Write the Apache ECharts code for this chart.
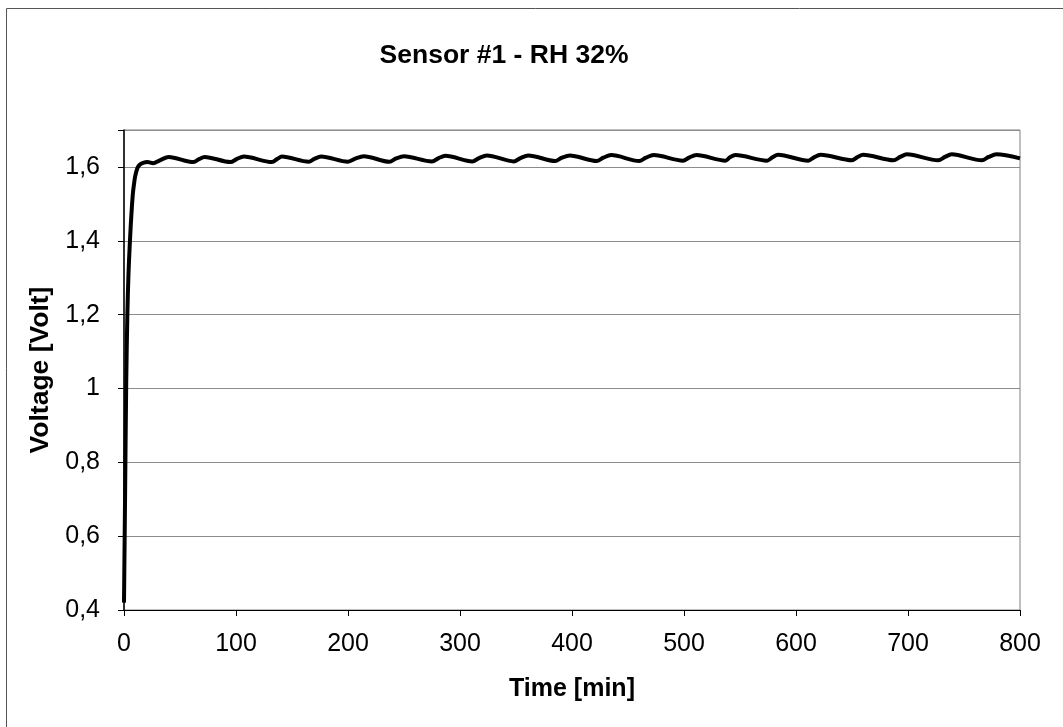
<!DOCTYPE html>
<html>
<head>
<meta charset="utf-8">
<script src="https://cdn.jsdelivr.net/npm/echarts@6/dist/echarts.min.js"></script>
<style>html,body{margin:0;padding:0;background:#fff}#c{width:1063px;height:727px}</style>
</head>
<body>
<div id="c"></div>
<script>
const title = 'Sensor #1 - RH 32%';
const xName = 'Time [min]';
const yName = 'Voltage [Volt]';
const timeMin = [0,1,2,3,4,5,6,7,8,9,10,12,14,17,21,26,32,40,
  62,67,72,95,101,107,132,137,141,165,170,176,200,207,214,237,243,250,
  275,281,287,311,317,324,348,354,361,385,391,398,422,428,435,460,466,473,
  499,505,511,537,541,546,574,579,584,611,616,622,650,655,660,687,693,699,
  727,733,739,766,772,779,800];
const voltage = [0.42,0.72,1.02,1.20,1.31,1.38,1.44,1.49,1.53,1.555,1.575,1.597,1.606,1.611,1.613,1.610,1.618,1.627,
  1.613,1.621,1.627,1.613,1.622,1.628,1.613,1.622,1.628,1.614,1.622,1.628,1.614,1.623,1.629,1.614,1.623,1.629,
  1.615,1.624,1.630,1.615,1.624,1.631,1.615,1.624,1.631,1.616,1.625,1.631,1.616,1.625,1.632,1.616,1.625,1.632,
  1.617,1.626,1.632,1.617,1.626,1.632,1.617,1.626,1.633,1.617,1.626,1.633,1.618,1.627,1.633,1.618,1.627,1.634,
  1.618,1.627,1.634,1.618,1.627,1.634,1.623];

const chart = echarts.init(document.getElementById('c'), null, {renderer:'canvas'});
const font = '"Liberation Sans", Arial, sans-serif';
chart.setOption({
  animation: false,
  backgroundColor: '#fff',
  title: {
    text: title, left: 499, top: 37, textAlign: 'center',
    textStyle: {fontFamily: font, fontSize: 26.5, fontWeight: 'bold', color: '#000'}
  },
  graphic: [{
    type: 'rect', shape: {x: 6.5, y: 8.5, width: 1200, height: 900},
    style: {fill: 'none', stroke: '#555', lineWidth: 1}, z: -1
  }],
  grid: {left: 124, right: 43, top: 130, bottom: 117, show: true, borderColor: '#808080', borderWidth: 1, backgroundColor: '#fff'},
  xAxis: {
    type: 'value', min: 0, max: 800, interval: 100,
    name: xName, nameLocation: 'middle', nameGap: 67,
    nameTextStyle: {fontFamily: font, fontSize: 25, fontWeight: 'bold', color: '#000'},
    axisLine: {show: true, lineStyle: {color: '#000', width: 1}},
    axisTick: {show: true, length: 6, lineStyle: {color: '#000'}},
    axisLabel: {fontFamily: font, fontSize: 25, color: '#000', margin: 22},
    splitLine: {show: false}
  },
  yAxis: {
    type: 'value', min: 0.4, max: 1.7, interval: 0.2,
    name: yName, nameLocation: 'middle', nameGap: 67, nameRotate: 90,
    nameTextStyle: {fontFamily: font, fontSize: 26.5, fontWeight: 'bold', color: '#000'},
    axisLine: {show: true, lineStyle: {color: '#000', width: 1.5}},
    axisTick: {show: true, length: 6, lineStyle: {color: '#000'}},
    axisLabel: {fontFamily: font, fontSize: 25, color: '#000', margin: 24,
      formatter: v => (Math.abs(v - 1.7) < 1e-6 ? '' : String(+v.toFixed(1)).replace('.', ','))},
    splitLine: {show: true, lineStyle: {color: '#8c8c8c', width: 1}}
  },
  series: [{
    type: 'line', data: timeMin.map((t, i) => [t, voltage[i]]),
    showSymbol: false, smooth: 0.3, clip: true,
    lineStyle: {color: '#000', width: 4}
  }]
});
</script>
</body>
</html>
